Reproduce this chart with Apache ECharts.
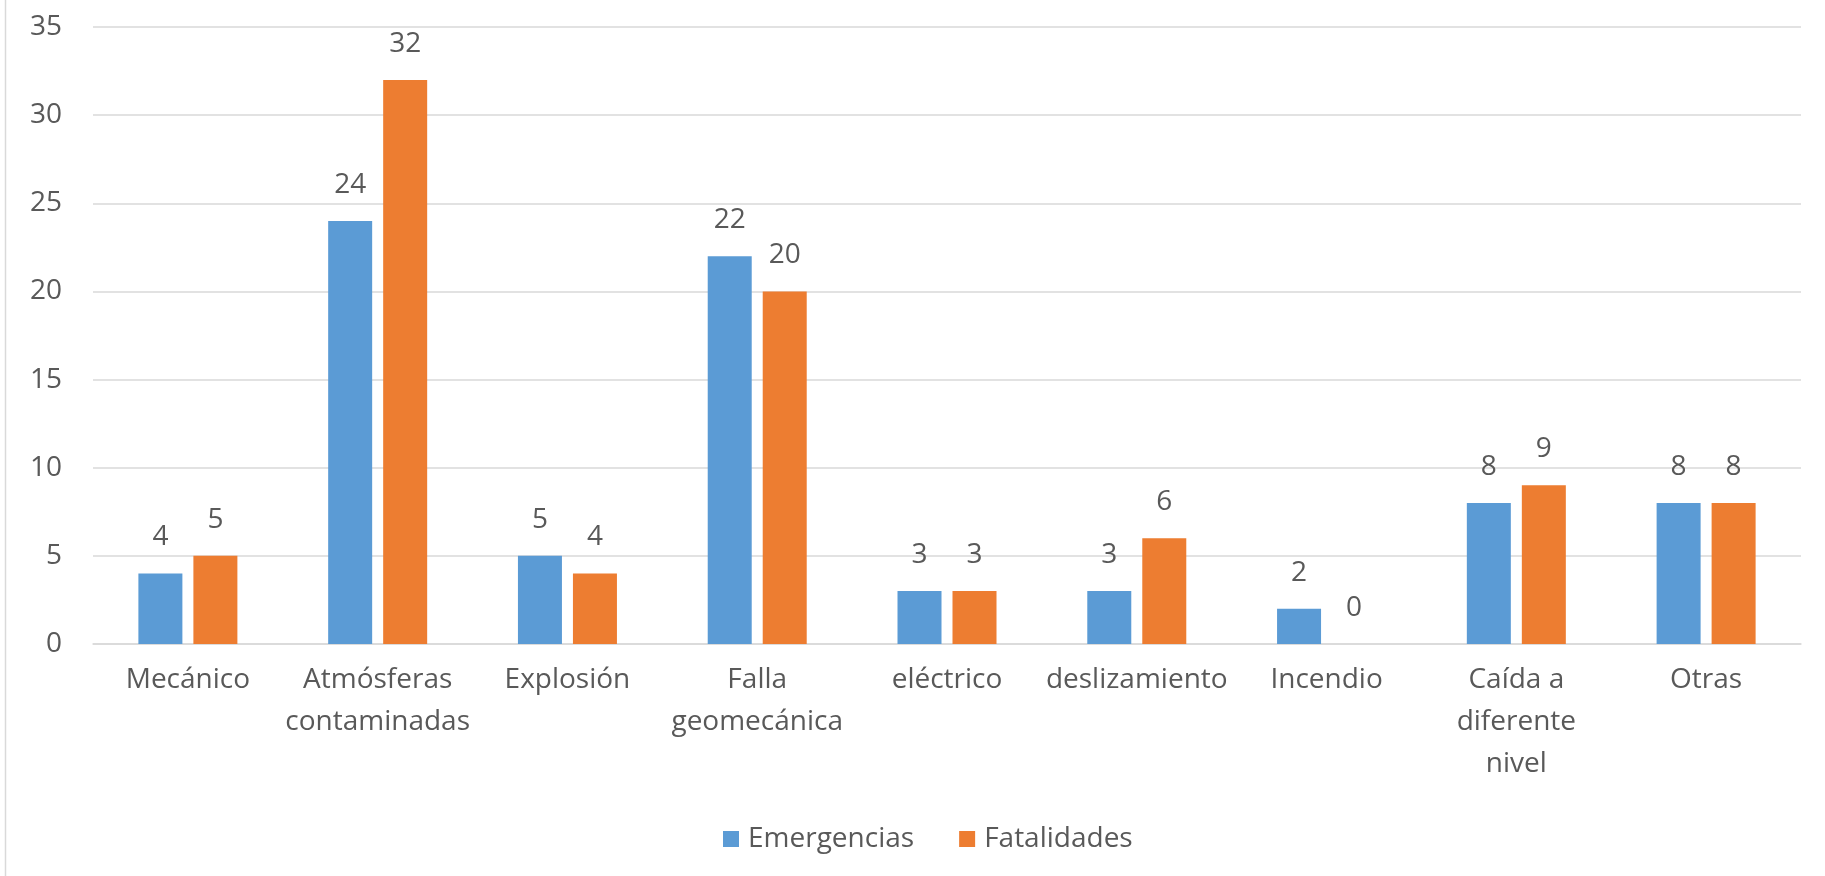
<!DOCTYPE html>
<html>
<head>
<meta charset="utf-8">
<script src="https://cdn.jsdelivr.net/npm/echarts@6/dist/echarts.min.js"></script>
<style>
  html, body { margin: 0; padding: 0; background: #fff; }
  #chart { width: 1825px; height: 876px; }
</style>
</head>
<body>
<div id="chart"></div>
<script>
// Causas de emergencias y fatalidades
const categories = [
  'Mecánico',
  'Atmósferas\ncontaminadas',
  'Explosión',
  'Falla\ngeomecánica',
  'eléctrico',
  'deslizamiento',
  'Incendio',
  'Caída a\ndiferente\nnivel',
  'Otras'
];
const emergencias = [4, 24, 5, 22, 3, 3, 2, 8, 8];
const fatalidades = [5, 32, 4, 20, 3, 6, 0, 9, 8];
const seriesNames = ['Emergencias', 'Fatalidades'];

const textColor = '#595959';
const fontFamily = '"Open Sans", "Noto Sans", sans-serif';
const fontSize = 28;

const chart = echarts.init(document.getElementById('chart'), null, { renderer: 'canvas' });

const labelStyle = {
  show: true,
  position: 'top',
  distance: 22,
  color: textColor,
  fontSize: fontSize,
  fontFamily: fontFamily
};

chart.setOption({
  animation: false,
  backgroundColor: '#ffffff',
  textStyle: { fontFamily: fontFamily },
  graphic: [{
    type: 'line',
    shape: { x1: 5.5, y1: 0, x2: 5.5, y2: 876 },
    style: { stroke: '#d9d9d9', lineWidth: 1.5 }
  }],
  grid: { left: 93, right: 24, top: 27, bottom: 232, containLabel: false },
  legend: {
    data: seriesNames,
    left: 718,
    top: 820,
    itemWidth: 16,
    itemHeight: 16,
    itemGap: 45,
    icon: 'rect',
    textStyle: { color: textColor, fontSize: fontSize, fontFamily: fontFamily, padding: [0, 0, 0, 4] }
  },
  xAxis: {
    type: 'category',
    data: categories,
    axisTick: { show: false },
    axisLine: { lineStyle: { color: '#d9d9d9', width: 1.5 } },
    axisLabel: {
      color: textColor,
      fontSize: fontSize,
      fontFamily: fontFamily,
      lineHeight: 42,
      margin: 15,
      interval: 0
    }
  },
  yAxis: {
    type: 'value',
    min: 0,
    max: 35,
    interval: 5,
    axisLine: { show: false },
    axisTick: { show: false },
    splitLine: { lineStyle: { color: '#d9d9d9', width: 1.5 } },
    axisLabel: { color: textColor, fontSize: fontSize, fontFamily: fontFamily, margin: 31 }
  },
  series: [
    {
      name: seriesNames[0],
      type: 'bar',
      data: emergencias,
      barWidth: 44,
      barGap: '25%',
      itemStyle: { color: '#5B9BD5' },
      label: labelStyle
    },
    {
      name: seriesNames[1],
      type: 'bar',
      data: fatalidades,
      barWidth: 44,
      barGap: '25%',
      itemStyle: { color: '#ED7D31' },
      label: labelStyle
    }
  ]
});
</script>
</body>
</html>
